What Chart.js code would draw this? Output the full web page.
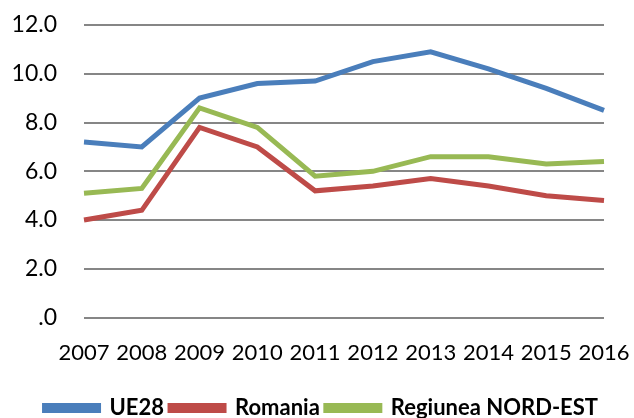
<!DOCTYPE html>
<html>
<head>
<meta charset="utf-8">
<script src="https://cdn.jsdelivr.net/npm/chart.js@4/dist/chart.umd.min.js"></script>
<style>
html,body{margin:0;padding:0;background:#fff;}
#wrap{width:634px;height:418px;position:relative;}
</style>
</head>
<body>
<div id="wrap"><canvas id="c" width="634" height="418"></canvas></div>
<script>
const years = ['2007','2008','2009','2010','2011','2012','2013','2014','2015','2016'];
const ue28 = [7.2, 7.0, 9.0, 9.6, 9.7, 10.5, 10.9, 10.2, 9.4, 8.5];
const romania = [4.0, 4.4, 7.8, 7.0, 5.2, 5.4, 5.7, 5.4, 5.0, 4.8];
const nordEst = [5.1, 5.3, 8.6, 7.8, 5.8, 6.0, 6.6, 6.6, 6.3, 6.4];
const yTicks = [0, 2, 4, 6, 8, 10, 12];
const seriesNames = ['UE28', 'Romania', 'Regiunea NORD-EST'];
const colors = ['#4A7EBB', '#BE4B48', '#98B954'];

const FONT = 'Lato, "Open Sans", sans-serif';

new Chart(document.getElementById('c'), {
  type: 'line',
  data: {
    labels: years,
    datasets: [ue28, romania, nordEst].map((d, i) => ({
      label: seriesNames[i],
      data: d,
      borderColor: colors[i],
      backgroundColor: colors[i],
      borderWidth: 5,
      pointRadius: 0,
      tension: 0,
      fill: false
    }))
  },
  options: {
    responsive: false,
    animation: false,
    devicePixelRatio: 1,
    layout: { padding: { left: 0, right: 30, top: 25, bottom: -11 } },
    plugins: {
      legend: {
        position: 'bottom',
        align: 'end',
        labels: {
          boxWidth: 54,
          boxHeight: 5,
          padding: 6,
          color: '#000',
          font: { family: FONT, size: 22, weight: 'bold' }
        }
      },
      tooltip: { enabled: false }
    },
    scales: {
      x: {
        offset: false,
        grid: { display: false, drawTicks: false },
        border: { display: false },
        afterFit: (axis) => { axis.paddingLeft = 0; axis.paddingRight = 0; axis.height += 3; },
        ticks: {
          color: '#000',
          padding: 22,
          maxRotation: 0,
          autoSkip: false,
          font: { family: FONT, size: 22 }
        }
      },
      y: {
        min: 0,
        max: 12,
        afterBuildTicks: (axis) => { axis.ticks = yTicks.map(v => ({ value: v })); },
        afterFit: (axis) => { axis.width = 84; axis.paddingTop = 0; axis.paddingBottom = 0; },
        grid: { color: '#868686', lineWidth: 2, drawTicks: false },
        border: { display: false },
        ticks: {
          color: '#000',
          padding: 27,
          font: { family: FONT, size: 23 },
          callback: (v) => v === 0 ? '.0' : Number(v).toFixed(1)
        }
      }
    }
  }
});
</script>
</body>
</html>
